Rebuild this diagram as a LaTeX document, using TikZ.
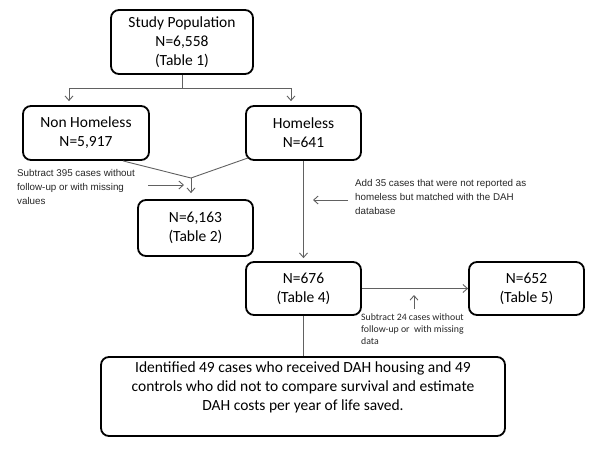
\documentclass[tikz,border=0pt]{standalone}
\usepackage{fontspec}
\setmainfont{Carlito}
\newfontfamily\arialf{Liberation Sans}
\usetikzlibrary{arrows.meta,calc}
\begin{document}
\begin{tikzpicture}[x=1pt,y=-1pt,
  box/.style={draw=black,line width=1.8pt,rounded corners=8pt,inner sep=0pt,align=center,font=\fontsize{15.5}{19}\selectfont},
  conn/.style={draw=black!62,line width=0.9pt},
  arr/.style={-{Straight Barb[length=4.5pt,width=8pt]}},
  note/.style={inner sep=0pt,anchor=north west,align=left,text=black!85},
  anote/.style={note,font=\arialf\fontsize{9.8}{14}\selectfont},
  cnote/.style={note,font=\fontsize{9.8}{12}\selectfont}]
\useasboundingbox (0,0) rectangle (600,456);
% boxes
\node[box,minimum width=142pt,minimum height=64pt] (study) at (182,42) {Study Population\\N=6,558\\(Table 1)};
\node[box,minimum width=126pt,minimum height=54pt] (nh) at (86,133) {Non Homeless\\N=5,917};
\node[box,minimum width=115pt,minimum height=54pt] (h) at (303.5,133) {Homeless\\N=641};
\node[box,minimum width=115pt,minimum height=56pt] (n6163) at (195.5,228) {N=6,163\\(Table 2)};
\node[box,minimum width=115pt,minimum height=53pt] (n676) at (303.5,288.5) {N=676\\(Table 4)};
\node[box,minimum width=115pt,minimum height=53pt] (n652) at (526.5,288.5) {N=652\\(Table 5)};
\node[box,minimum width=404pt,minimum height=79pt] (bottom) at (303,396.5) {\parbox[c][70pt][t]{400pt}{\centering Identified 49 cases who received DAH housing and 49\\controls who did not to compare survival and estimate\\DAH costs per year of life saved.}};
% notes
\node[anote] (t395) at (17,169) {Subtract 395 cases without\\follow-up or with missing\\values};
\node[anote] (t35) at (355,179) {Add 35 cases that were not reported as\\homeless but matched with the DAH\\database};
\node[cnote] (t24) at (361,313) {Subtract 24 cases without\\follow-up or\ \ with missing\\data};
% coordinates
\coordinate (j) at (182,88);
\coordinate (m) at (191,178);
\coordinate (s1) at (148,185);
\coordinate (s2) at (184,185);
\coordinate (a1) at (348,200);
\coordinate (a2) at (313,200);
\coordinate (u1) at (414,309);
\coordinate (u2) at (414,295);
% connectors
\draw[conn] (study.south) -- (j);
\draw[conn,arr,shorten >=4pt] (j) -| ([xshift=-17pt]nh.north);
\draw[conn,arr,shorten >=4pt] (j) -| ([xshift=-12.5pt]h.north);
\draw[conn] ([xshift=37pt]nh.south) -- (m);
\draw[conn] ($(h.south west)+(3,-3)$) -- (m);
\draw[conn,arr,shorten >=6pt] (m) -- (m |- n6163.north);
\draw[conn,arr] (s1) -- (s2);
\draw[conn,arr,shorten >=3pt] (h.south) -- (n676.north);
\draw[conn,arr] (a1) -- (a2);
\draw[conn,arr] (n676.east) -- (n652.west);
\draw[conn,arr] (u1) -- (u2);
\draw[conn] (n676.south) -- (n676.south |- bottom.north);
\end{tikzpicture}
\end{document}
